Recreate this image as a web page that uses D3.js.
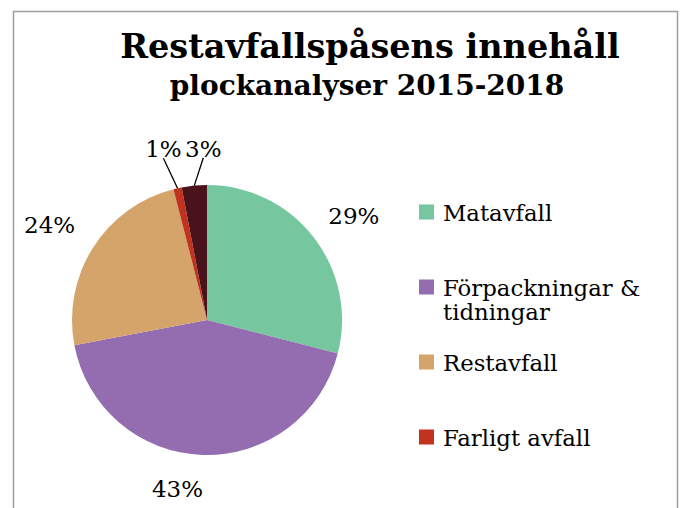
<!DOCTYPE html>
<html><head><meta charset="utf-8">
<script src="https://cdn.jsdelivr.net/npm/d3@7"></script>
<style>body{margin:0;background:#fff}svg{display:block}</style>
</head><body><svg id="c" width="683" height="508"></svg>
<script>
// ---- data ----
const categories = ["Matavfall", "Förpackningar & tidningar", "Restavfall", "Farligt avfall", "Övrigt"];
const values = [29, 43, 24, 1, 3];
const pctLabels = ["29%", "43%", "24%", "1%", "3%"];
const colors = ["#76c7a0", "#946cb0", "#d4a46a", "#c1321f", "#4a121a"];
const legendLines = [["Matavfall"], ["Förpackningar &", "tidningar"], ["Restavfall"], ["Farligt avfall"]];
const titleText = "Restavfallspåsens innehåll";
const subtitleText = "plockanalyser 2015-2018";

// ---- layout ----
const cx = 207, cy = 320, R = 135, labelR = 177;
const labelNudge = [[7, 12], [-24, 0], [-8, 8], [-5, 10], [13, 13]];
const legendX = 419, legendY0 = 212, legendStep = 75, sq = 15;
const serif = "'DejaVu Serif', 'Liberation Serif', serif";

const svg = d3.select("#c");

svg.append("rect").attr("x", 13.5).attr("y", 11.5).attr("width", 664).attr("height", 540)
  .attr("fill", "#fff").attr("stroke", "#9e9e9e").attr("stroke-width", 1.5);

svg.append("text").attr("x", 370).attr("y", 58).attr("text-anchor", "middle")
  .attr("font-family", serif).attr("font-weight", "bold").attr("font-size", 33.5)
  .attr("fill", "#000").text(titleText);
svg.append("text").attr("x", 367).attr("y", 95).attr("text-anchor", "middle")
  .attr("font-family", serif).attr("font-weight", "bold").attr("font-size", 28)
  .attr("fill", "#000").text(subtitleText);

const pie = d3.pie().sort(null).value(d => d);
const arcs = pie(values);
const arc = d3.arc().innerRadius(0).outerRadius(R);
const arcEdge = d3.arc().innerRadius(R).outerRadius(R);
const labelArc = d3.arc().innerRadius(labelR).outerRadius(labelR);

const g = svg.append("g").attr("transform", `translate(${cx},${cy})`);
g.selectAll("path.slice").data(arcs).join("path")
  .attr("class", "slice").attr("d", arc).attr("fill", (d, i) => colors[i]);

const lp = arcs.map((d, i) => {
  const c = labelArc.centroid(d);
  return [c[0] + labelNudge[i][0], c[1] + labelNudge[i][1]];
});

// leader lines for small slices
arcs.forEach((d, i) => {
  if (d.data < 5) {
    const e = arcEdge.centroid(d);
    g.append("line").attr("x1", e[0]).attr("y1", e[1])
      .attr("x2", lp[i][0]).attr("y2", lp[i][1] + 1)
      .attr("stroke", "#000").attr("stroke-width", 1.3);
  }
});

g.selectAll("text.pct").data(arcs).join("text")
  .attr("class", "pct")
  .attr("x", (d, i) => lp[i][0]).attr("y", (d, i) => lp[i][1])
  .attr("text-anchor", "middle").attr("font-family", serif).attr("font-size", 23)
  .attr("fill", "#000").text((d, i) => pctLabels[i]);

// legend (the reference shows the first four entries)
const lg = svg.append("g");
legendLines.forEach((lines, i) => {
  const yc = legendY0 + i * legendStep;
  lg.append("rect").attr("x", legendX).attr("y", yc - sq / 2).attr("width", sq).attr("height", sq)
    .attr("fill", colors[i]);
  const t = lg.append("text").attr("x", legendX + 24).attr("y", yc + 9)
    .attr("font-family", serif).attr("font-size", 22.8).attr("fill", "#000");
  lines.forEach((ln, k) => {
    t.append("tspan").attr("x", legendX + 24).attr("dy", k === 0 ? 0 : 24).text(ln);
  });
});
</script>
</body></html>
